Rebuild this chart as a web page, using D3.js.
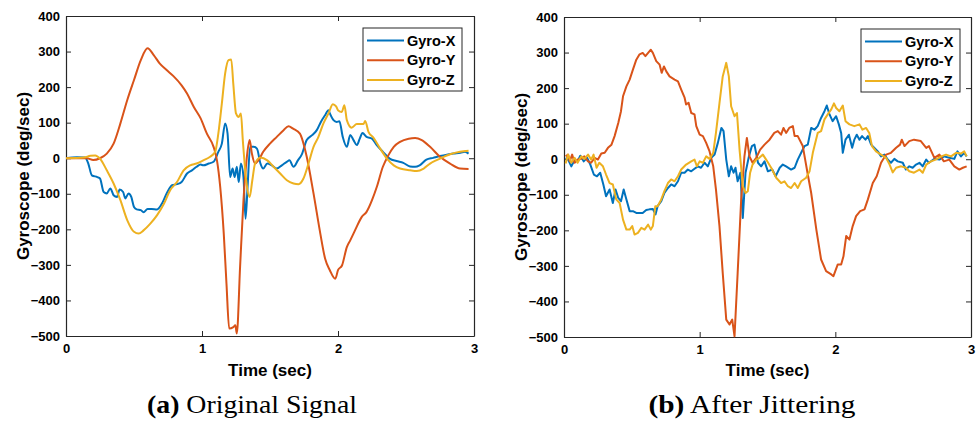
<!DOCTYPE html>
<html>
<head>
<meta charset="utf-8">
<script src="https://cdn.jsdelivr.net/npm/d3@7/dist/d3.min.js"></script>
<style>
  html, body { margin: 0; padding: 0; background: #fff; }
  svg { display: block; }
</style>
</head>
<body>
<svg id="chart" width="977" height="421"></svg>
<script>
// ---------------- DATA ----------------
const seriesNames = ["Gyro-X", "Gyro-Y", "Gyro-Z"];
const xTicks = [0, 1, 2, 3];
const yTicks = [-500, -400, -300, -200, -100, 0, 100, 200, 300, 400];
const captionsBold = ["(a)", "(b)"];
const captionsText = ["Original Signal", "After Jittering"];

// Original signal: [time (sec), deg/sec]
const origGyroX = [[0,0],[0.08,3],[0.14,2],[0.164,-15],[0.19,-48],[0.23,-53],[0.25,-57],[0.277,-95],[0.3,-99],[0.326,-85],[0.35,-104],[0.375,-109],[0.394,-88],[0.42,-95],[0.436,-113],[0.46,-99],[0.48,-109],[0.5,-137],[0.52,-144],[0.55,-146],[0.57,-152],[0.6,-143],[0.63,-143],[0.67,-144],[0.705,-128],[0.74,-99],[0.78,-76],[0.816,-73],[0.85,-67],[0.89,-43],[0.926,-34],[0.96,-24],[0.99,-18],[1.01,-20],[1.05,-15],[1.085,-10],[1.12,18],[1.146,41],[1.17,98],[1.188,69],[1.207,-53],[1.225,-29],[1.24,-53],[1.256,-24],[1.27,-67],[1.286,-15],[1.305,-53],[1.32,-170],[1.335,-81],[1.354,32],[1.38,32],[1.404,27],[1.43,-15],[1.45,-29],[1.48,-15],[1.513,-20],[1.55,-29],[1.587,-20],[1.624,-10],[1.643,-6],[1.673,-24],[1.705,-6],[1.734,11],[1.77,51],[1.81,65],[1.844,79],[1.874,102],[1.905,121],[1.93,135],[1.94,126],[1.967,107],[1.99,102],[2.01,104],[2.035,60],[2.065,32],[2.09,65],[2.114,51],[2.138,37],[2.16,55],[2.18,71],[2.21,60],[2.25,55],[2.285,37],[2.33,18],[2.38,-1],[2.43,-8],[2.48,-13],[2.53,-23],[2.567,-24],[2.6,-20],[2.65,-4],[2.7,1],[2.75,6],[2.8,10],[2.85,13],[2.9,15],[2.934,18],[2.96,13]];
const origGyroY = [[0,0],[0.154,0],[0.2,-5],[0.25,0],[0.3,13],[0.35,41],[0.4,98],[0.45,163],[0.5,220],[0.55,276],[0.6,309],[0.645,290],[0.69,266],[0.74,248],[0.79,231],[0.85,205],[0.89,182],[0.94,144],[0.99,112],[1.036,69],[1.085,32],[1.11,-6],[1.134,-81],[1.16,-212],[1.18,-353],[1.2,-479],[1.23,-475],[1.245,-470],[1.256,-493],[1.28,-306],[1.305,-118],[1.33,4],[1.35,51],[1.367,13],[1.39,-15],[1.415,-6],[1.45,18],[1.5,41],[1.55,60],[1.6,79],[1.636,90],[1.67,83],[1.72,69],[1.77,4],[1.82,-99],[1.87,-212],[1.905,-282],[1.94,-315],[1.98,-339],[2.0,-315],[2.03,-301],[2.065,-250],[2.09,-231],[2.125,-203],[2.175,-165],[2.21,-151],[2.25,-118],[2.285,-81],[2.33,-24],[2.37,8],[2.41,32],[2.456,46],[2.52,55],[2.567,57],[2.616,51],[2.677,32],[2.75,4],[2.824,-15],[2.897,-29],[2.96,-30]];
const origGyroZ = [[0,0],[0.13,2],[0.18,7],[0.215,8],[0.25,-1],[0.3,-34],[0.35,-71],[0.4,-118],[0.45,-174],[0.5,-207],[0.534,-212],[0.57,-203],[0.62,-184],[0.67,-160],[0.72,-128],[0.766,-90],[0.816,-67],[0.865,-34],[0.914,-20],[0.96,-15],[1.01,-6],[1.06,4],[1.097,18],[1.12,69],[1.146,154],[1.17,238],[1.195,276],[1.215,278],[1.23,210],[1.25,126],[1.27,116],[1.286,126],[1.3,51],[1.325,-62],[1.35,-109],[1.37,-62],[1.39,-15],[1.43,2],[1.48,-6],[1.526,-24],[1.575,-43],[1.624,-62],[1.673,-71],[1.71,-73],[1.746,-57],[1.783,-15],[1.82,32],[1.856,60],[1.893,98],[1.93,126],[1.962,152],[1.986,146],[2.0,135],[2.028,130],[2.047,149],[2.065,107],[2.1,86],[2.138,96],[2.187,96],[2.2,105],[2.224,74],[2.26,58],[2.31,27],[2.36,-1],[2.41,-20],[2.456,-29],[2.53,-34],[2.58,-36],[2.63,-29],[2.677,-15],[2.75,-1],[2.824,11],[2.897,18],[2.96,21]];

// After jittering: [time (sec), deg/sec]
const jitGyroX = [[0.012,4],[0.03,-1],[0.054,-20],[0.08,-1],[0.1,-6],[0.12,10],[0.145,-6],[0.17,4],[0.194,-15],[0.22,-43],[0.243,-48],[0.267,-38],[0.29,-71],[0.31,-104],[0.336,-85],[0.36,-123],[0.38,-85],[0.4,-109],[0.42,-118],[0.44,-85],[0.46,-113],[0.484,-146],[0.508,-146],[0.533,-151],[0.557,-151],[0.58,-151],[0.606,-143],[0.63,-141],[0.655,-140],[0.675,-155],[0.69,-132],[0.717,-118],[0.74,-95],[0.766,-81],[0.79,-71],[0.815,-76],[0.84,-62],[0.864,-38],[0.889,-38],[0.913,-29],[0.938,-34],[0.962,-27],[0.987,-20],[1.01,-24],[1.036,-10],[1.06,-20],[1.085,4],[1.11,13],[1.134,46],[1.16,88],[1.176,79],[1.196,-1],[1.215,-48],[1.232,-20],[1.25,-38],[1.264,-24],[1.28,-62],[1.3,-38],[1.318,-165],[1.338,-38],[1.363,8],[1.385,37],[1.404,41],[1.43,-10],[1.453,-20],[1.478,-6],[1.503,-34],[1.535,-29],[1.56,-48],[1.59,-24],[1.613,-15],[1.637,-20],[1.674,-29],[1.7,-24],[1.723,-1],[1.748,18],[1.773,37],[1.797,41],[1.822,88],[1.846,83],[1.87,93],[1.895,116],[1.92,135],[1.937,151],[1.957,126],[1.98,107],[2.006,121],[2.026,98],[2.043,74],[2.055,18],[2.075,55],[2.1,69],[2.124,32],[2.14,55],[2.158,69],[2.178,55],[2.197,65],[2.222,55],[2.24,65],[2.264,41],[2.288,32],[2.313,22],[2.337,8],[2.362,13],[2.386,-1],[2.41,-10],[2.435,1],[2.46,-6],[2.497,-10],[2.52,-29],[2.545,-20],[2.57,-24],[2.595,-15],[2.62,-10],[2.644,-20],[2.67,-1],[2.69,-10],[2.73,1],[2.767,-1],[2.8,8],[2.84,4],[2.877,1],[2.9,22],[2.926,8],[2.95,18],[2.968,8]];
const jitGyroY = [[0.012,8],[0.03,13],[0.042,-6],[0.06,13],[0.078,-10],[0.1,-1],[0.127,1],[0.15,8],[0.177,-6],[0.2,-10],[0.226,4],[0.25,-1],[0.275,16],[0.3,18],[0.324,32],[0.35,41],[0.373,65],[0.4,102],[0.42,135],[0.435,177],[0.46,205],[0.484,224],[0.508,252],[0.533,280],[0.557,295],[0.58,299],[0.6,290],[0.62,299],[0.64,308],[0.655,299],[0.68,276],[0.705,266],[0.72,243],[0.737,261],[0.754,247],[0.778,233],[0.815,224],[0.84,219],[0.864,196],[0.889,173],[0.9,154],[0.918,159],[0.938,130],[0.962,126],[0.975,93],[1.0,69],[1.024,65],[1.048,46],[1.073,22],[1.1,-20],[1.12,-85],[1.146,-188],[1.17,-320],[1.196,-451],[1.22,-465],[1.24,-451],[1.257,-498],[1.28,-320],[1.306,-113],[1.33,8],[1.348,60],[1.367,8],[1.39,-10],[1.417,4],[1.446,27],[1.478,41],[1.515,55],[1.55,74],[1.576,79],[1.6,69],[1.618,88],[1.637,74],[1.66,88],[1.687,93],[1.7,65],[1.723,65],[1.76,37],[1.797,-43],[1.822,-95],[1.86,-198],[1.895,-282],[1.932,-315],[1.97,-324],[1.986,-329],[2.018,-296],[2.043,-296],[2.06,-273],[2.08,-216],[2.104,-226],[2.128,-188],[2.153,-160],[2.183,-146],[2.215,-141],[2.24,-113],[2.276,-67],[2.305,-48],[2.337,-10],[2.374,13],[2.41,18],[2.448,32],[2.477,41],[2.49,55],[2.51,37],[2.545,51],[2.58,55],[2.63,51],[2.67,32],[2.69,37],[2.73,4],[2.767,13],[2.8,-6],[2.84,-1],[2.877,-20],[2.914,-29],[2.94,-24],[2.968,-20]];
const jitGyroZ = [[0.012,-12],[0.03,13],[0.054,-10],[0.078,4],[0.1,-10],[0.127,8],[0.15,1],[0.177,13],[0.2,-1],[0.218,13],[0.24,-24],[0.26,-10],[0.287,-20],[0.31,-43],[0.336,-67],[0.36,-71],[0.385,-113],[0.41,-123],[0.435,-170],[0.46,-198],[0.484,-198],[0.503,-188],[0.52,-212],[0.545,-207],[0.57,-193],[0.594,-198],[0.62,-184],[0.64,-198],[0.655,-188],[0.673,-132],[0.69,-132],[0.717,-113],[0.74,-90],[0.766,-67],[0.79,-57],[0.815,-62],[0.84,-48],[0.864,-29],[0.9,-15],[0.938,-6],[0.962,-1],[0.98,-20],[1.0,-6],[1.024,-10],[1.048,8],[1.073,1],[1.1,18],[1.12,74],[1.146,158],[1.17,233],[1.196,271],[1.215,233],[1.232,149],[1.257,121],[1.275,130],[1.294,27],[1.318,-76],[1.338,-95],[1.355,-90],[1.372,-38],[1.39,-15],[1.417,-1],[1.44,4],[1.466,13],[1.49,-1],[1.527,-24],[1.564,-52],[1.6,-67],[1.625,-62],[1.65,-76],[1.674,-81],[1.7,-67],[1.723,-81],[1.748,-62],[1.785,-52],[1.81,-34],[1.834,18],[1.87,74],[1.895,79],[1.92,112],[1.944,126],[1.97,140],[1.99,157],[2.006,144],[2.03,135],[2.055,151],[2.075,107],[2.104,98],[2.14,93],[2.178,98],[2.2,83],[2.227,88],[2.25,74],[2.27,37],[2.3,22],[2.337,13],[2.374,4],[2.4,-15],[2.423,-37],[2.448,-24],[2.485,-20],[2.52,-24],[2.545,-34],[2.58,-38],[2.62,-29],[2.644,-38],[2.67,-15],[2.705,-6],[2.74,-1],[2.78,8],[2.816,13],[2.853,8],[2.89,18],[2.926,16],[2.95,22],[2.968,8]];

// ---------------- STYLE / LAYOUT ----------------
const colors = ["#0072BD", "#D95319", "#EDB120"];
const axisColor = "#262626";
const sansBold = "'Liberation Sans', Arial, Helvetica, sans-serif";

const panels = [
  { series: [origGyroX, origGyroY, origGyroZ], left: 66, right: 474, top: 16, bottom: 336,
    curve: d3.curveMonotoneX, legend: { x: 363, y: 28, w: 99, h: 63 },
    yLabelX: 29, caption: 0, captionX: 252, captionW: 210 },
  { series: [jitGyroX, jitGyroY, jitGyroZ], left: 564, right: 971, top: 17, bottom: 337,
    curve: d3.curveLinear, legend: { x: 861, y: 29, w: 99, h: 63 },
    yLabelX: 527, caption: 1, captionX: 752, captionW: 207 }
];

const svg = d3.select("#chart");

panels.forEach(p => {
  const x = d3.scaleLinear().domain([0, 3]).range([p.left, p.right]);
  const y = d3.scaleLinear().domain([-500, 400]).range([p.bottom, p.top]);
  const g = svg.append("g");

  // axes with inward ticks
  const tickLen = 5;
  const xAxisB = d3.axisBottom(x).tickValues(xTicks).tickSizeInner(-tickLen).tickSizeOuter(0).tickPadding(8).tickFormat(d3.format("d"));
  const xAxisT = d3.axisTop(x).tickValues(xTicks).tickSizeInner(-tickLen).tickSizeOuter(0).tickFormat("");
  const yAxisL = d3.axisLeft(y).tickValues(yTicks).tickSizeInner(-tickLen).tickSizeOuter(0).tickPadding(6).tickFormat(d3.format("d"));
  const yAxisR = d3.axisRight(y).tickValues(yTicks).tickSizeInner(-tickLen).tickSizeOuter(0).tickFormat("");

  const gx = g.append("g").attr("transform", `translate(0,${p.bottom})`).call(xAxisB);
  g.append("g").attr("transform", `translate(0,${p.top})`).call(xAxisT);
  const gy = g.append("g").attr("transform", `translate(${p.left},0)`).call(yAxisL);
  g.append("g").attr("transform", `translate(${p.right},0)`).call(yAxisR);

  g.selectAll(".domain").attr("stroke", axisColor).attr("stroke-width", 1.2);
  g.selectAll(".tick line").attr("stroke", axisColor).attr("stroke-width", 1);
  g.selectAll(".tick text").attr("fill", "#000").attr("font-family", sansBold)
    .attr("font-weight", "bold").attr("font-size", "13px");

  // lines
  const line = d3.line().x(d => x(d[0])).y(d => y(d[1])).curve(p.curve);
  const clipId = "clip" + p.caption;
  svg.append("clipPath").attr("id", clipId).append("rect")
    .attr("x", p.left).attr("y", p.top - 3).attr("width", p.right - p.left).attr("height", p.bottom - p.top + 6);
  const lg = g.append("g").attr("clip-path", `url(#${clipId})`);
  p.series.forEach((s, i) => {
    lg.append("path").datum(s).attr("d", line).attr("fill", "none")
      .attr("stroke", colors[i]).attr("stroke-width", 2).attr("stroke-linejoin", "round");
  });

  // axis labels
  g.append("text").attr("x", (p.left + p.right) / 2).attr("y", 376)
    .attr("text-anchor", "middle").attr("font-family", sansBold).attr("font-weight", "bold")
    .attr("font-size", "17px").attr("fill", "#000").text("Time (sec)");
  g.append("text").attr("transform", `translate(${p.yLabelX},${(p.top + p.bottom) / 2}) rotate(-90)`)
    .attr("text-anchor", "middle").attr("font-family", sansBold).attr("font-weight", "bold")
    .attr("font-size", "17px").attr("fill", "#000").text("Gyroscope (deg/sec)");

  // legend
  const L = p.legend;
  g.append("rect").attr("x", L.x).attr("y", L.y).attr("width", L.w).attr("height", L.h)
    .attr("fill", "#fff").attr("stroke", axisColor).attr("stroke-width", 1);
  seriesNames.forEach((n, i) => {
    const ry = L.y + 12.5 + i * 19.7;
    g.append("line").attr("x1", L.x + 4).attr("x2", L.x + 41).attr("y1", ry).attr("y2", ry)
      .attr("stroke", colors[i]).attr("stroke-width", 2);
    g.append("text").attr("x", L.x + 44).attr("y", ry).attr("dy", "0.36em")
      .attr("font-family", sansBold).attr("font-weight", "bold").attr("font-size", "14.5px")
      .attr("fill", "#000").text(n);
  });

  // caption
  const cap = g.append("text").attr("x", p.captionX).attr("y", 413).attr("text-anchor", "middle")
    .attr("font-family", "'Liberation Serif', 'DejaVu Serif', serif").attr("font-size", "25px")
    .attr("fill", "#000").attr("textLength", p.captionW).attr("lengthAdjust", "spacingAndGlyphs");
  cap.append("tspan").attr("font-weight", "bold").text(captionsBold[p.caption]);
  cap.append("tspan").text(" " + captionsText[p.caption]);
});
</script>
</body>
</html>
